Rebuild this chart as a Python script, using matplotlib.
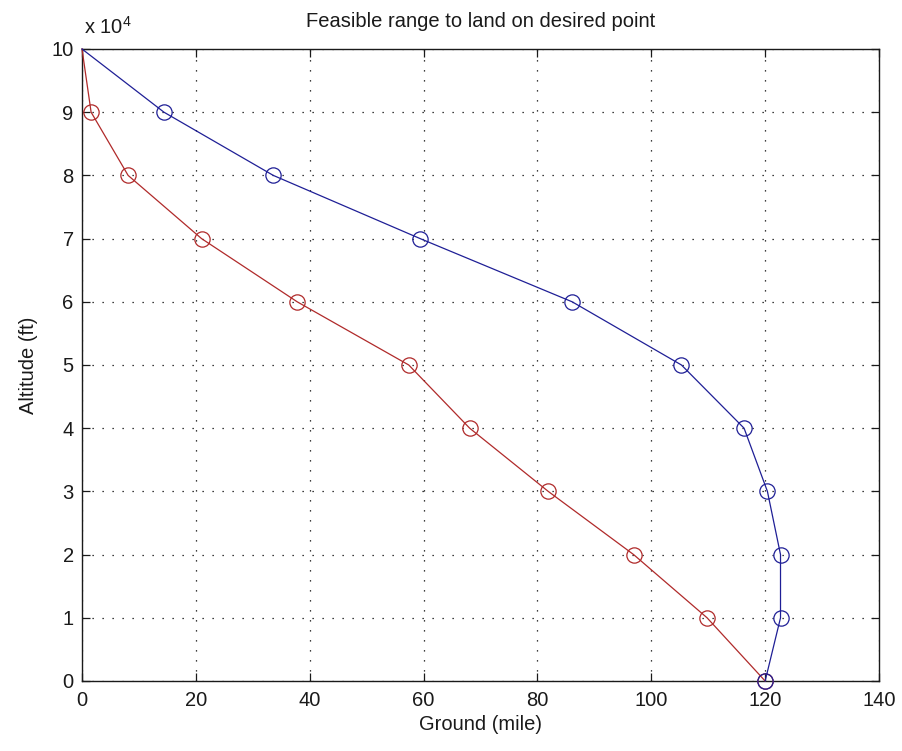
import matplotlib
matplotlib.use("Agg")
import matplotlib.pyplot as plt

# Altitude levels (ft)
altitude = [100000, 90000, 80000, 70000, 60000, 50000, 40000, 30000, 20000, 10000, 0]
# Farthest reachable ground distance (mile)
ground_max = [0, 14.4, 33.6, 59.4, 86.1, 105.3, 116.3, 120.4, 122.7, 122.7, 120]
# Nearest reachable ground distance (mile)
ground_min = [0, 1.6, 8.1, 21.0, 37.8, 57.4, 68.1, 81.9, 96.9, 109.8, 120]

x_ticks = [0, 20, 40, 60, 80, 100, 120, 140]
y_ticks = [0, 10000, 20000, 30000, 40000, 50000, 60000, 70000, 80000, 90000, 100000]
y_tick_labels = ["0", "1", "2", "3", "4", "5", "6", "7", "8", "9", "10"]

plt.rcParams["font.family"] = ["Liberation Sans", "DejaVu Sans"]
plt.rcParams["mathtext.fontset"] = "custom"
plt.rcParams["mathtext.rm"] = "Liberation Sans"

fig = plt.figure(figsize=(9.02, 7.51), dpi=100)
ax = fig.add_axes([82 / 902, 1 - 681 / 751, (879 - 82) / 902, (681 - 49) / 751])

blue = "#1f1f96"
red = "#b02a2a"
marked = list(range(1, len(altitude)))
ax.plot(ground_min, altitude, "-", color=red, lw=0.9, marker="o", ms=11,
        mfc="none", mec=red, mew=0.9, markevery=marked, zorder=3,
        clip_on=False)
ax.plot(ground_max, altitude, "-", color=blue, lw=0.9, marker="o", ms=11,
        mfc="none", mec=blue, mew=0.9, markevery=marked, zorder=3,
        clip_on=False)

ax.set_xlim(0, 140)
ax.set_ylim(0, 100000)
ax.set_xticks(x_ticks)
ax.set_xticklabels([str(t) for t in x_ticks])
ax.set_yticks(y_ticks)
ax.set_yticklabels(y_tick_labels)

ax.grid(True, color="black", linestyle=(0, (1, 7)), linewidth=0.9)
ax.tick_params(direction="in", length=6, width=0.9, top=True, right=True,
               labelsize=14.5, colors="#1a1a1a")
ax.tick_params(axis="x", pad=7)
ax.tick_params(axis="y", pad=6)
for s in ax.spines.values():
    s.set_linewidth(1.0)
    s.set_color("#1a1a1a")

ax.text(0.003, 1.018, r"x 10$^{4}$", transform=ax.transAxes, ha="left",
        va="bottom", fontsize=14.5, color="#1a1a1a")
ax.set_title("Feasible range to land on desired point", fontsize=14.5,
             pad=16, color="#1a1a1a")
ax.set_xlabel("Ground (mile)", fontsize=14.5, labelpad=4, color="#1a1a1a")
ax.set_ylabel("Altitude (ft)", fontsize=14.5, labelpad=10, color="#1a1a1a")

fig.savefig("out.png", dpi=100)
